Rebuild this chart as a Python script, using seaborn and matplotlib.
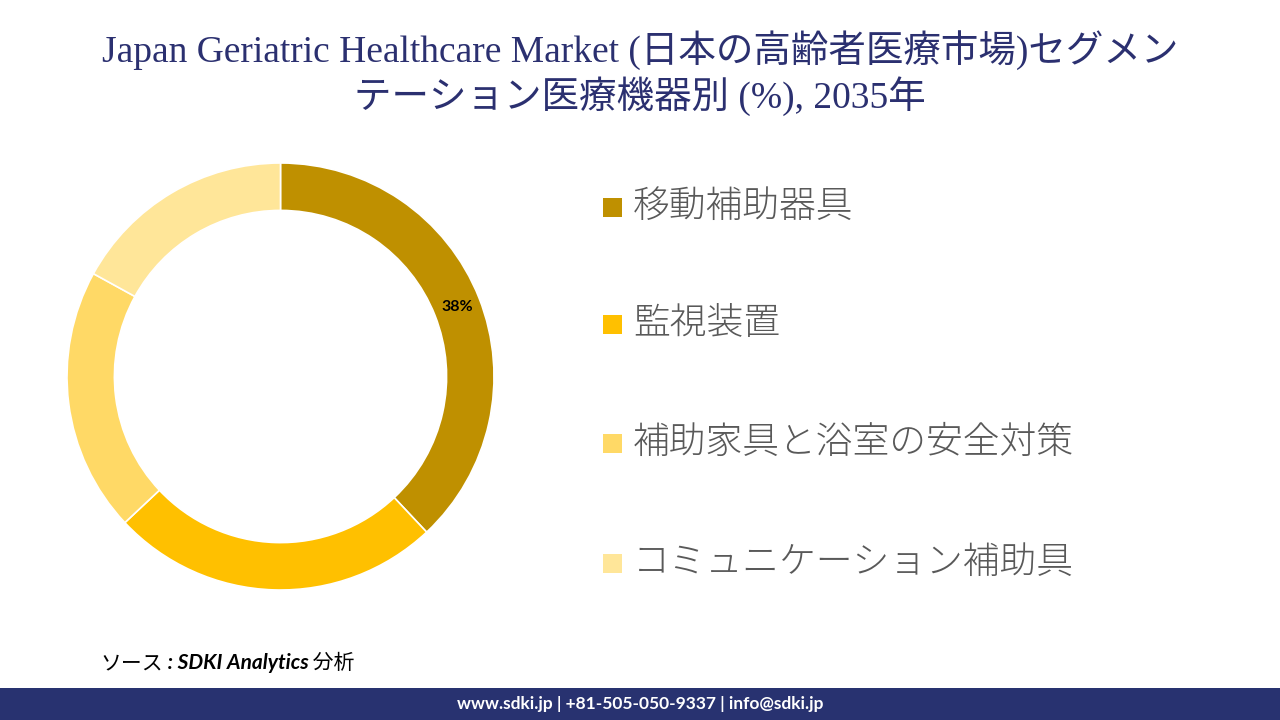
import matplotlib
matplotlib.use('Agg')
import matplotlib.pyplot as plt
from matplotlib.patches import Rectangle
import numpy as np
import seaborn as sns

# data
segments = ['移動補助器具', '監視装置', '補助家具と浴室の安全対策', 'コミュニケーション補助具']
shares = [38, 25, 20, 17]
colors = ['#BF9000', '#FFC000', '#FFD966', '#FFE699']
shown_labels = ['38%', '', '', '']

title = ('Japan Geriatric Healthcare Market (日本の高齢者医療市場)セグメン\n'
         'テーション医療機器別 (%), 2035年')
source_parts = ['ソース', ' : SDKI Analytics', ' 分析']
footer_text = 'www.sdki.jp | +81-505-050-9337 | info@sdki.jp'

sns.set_theme(style='white')
plt.rcParams['font.family'] = ['Noto Sans CJK JP', 'DejaVu Sans']

fig = plt.figure(figsize=(12.8, 7.2), dpi=100)
fig.patch.set_facecolor('white')

# donut
ring = 0.222
ax = fig.add_axes([67 / 1280, 130 / 720, 427 / 1280, 427 / 720])
wedges, _ = ax.pie(shares, colors=colors, startangle=90, counterclock=False,
                   wedgeprops=dict(width=ring, edgecolor='white', linewidth=1.2))
ax.set_xlim(-1, 1)
ax.set_ylim(-1, 1)
ax.set_aspect('equal')
ax.axis('off')

for w, lab in zip(wedges, shown_labels):
    if not lab:
        continue
    ang = np.deg2rad((w.theta1 + w.theta2) / 2)
    r = 1 - ring / 2
    ax.text(r * np.cos(ang), r * np.sin(ang), lab, ha='center', va='center',
            fontsize=11.5, fontweight='bold', color='black', family=['Lato', 'DejaVu Sans'])

# legend
legend_y = [207, 324, 443, 563]
for lab, col, y in zip(segments, colors, legend_y):
    fig.patches.append(Rectangle((603 / 1280, (720 - y - 10) / 720), 19 / 1280, 19 / 720,
                                 transform=fig.transFigure, facecolor=col, edgecolor='none'))
    fig.text(633 / 1280, (720 - y) / 720, lab, fontsize=26.5, color='#595959',
             ha='left', va='center', fontweight='light')

# title
fig.text(0.5, (720 - 73) / 720, title, ha='center', va='center', fontsize=27,
         color='#2B3070', linespacing=1.2,
         family=['Liberation Serif', 'Noto Sans CJK JP'])

# source
t = fig.text(100 / 1280, (720 - 663) / 720, source_parts[0], ha='left', va='center',
             fontsize=15, style='italic', color='black',
             family=['Noto Sans CJK JP', 'DejaVu Sans'])
t = plt.annotate(source_parts[1], xy=(1, 0.5), xycoords=t, ha='left', va='center',
                 fontsize=15, fontweight='bold', style='italic', color='black',
                 family=['Lato', 'DejaVu Sans'])
plt.annotate(source_parts[2], xy=(1, 0.5), xycoords=t, ha='left', va='center',
             fontsize=15, style='italic', color='black',
             family=['Noto Sans CJK JP', 'DejaVu Sans'])

# footer band
fig.patches.append(Rectangle((0, 0), 1, 32 / 720, transform=fig.transFigure,
                             facecolor='#283270', edgecolor='none'))
fig.text(0.5, 16 / 720, footer_text, ha='center', va='center', fontsize=12.5,
         fontweight='bold', color='white', family=['Lato', 'DejaVu Sans'])

fig.savefig('out.png', dpi=100)
